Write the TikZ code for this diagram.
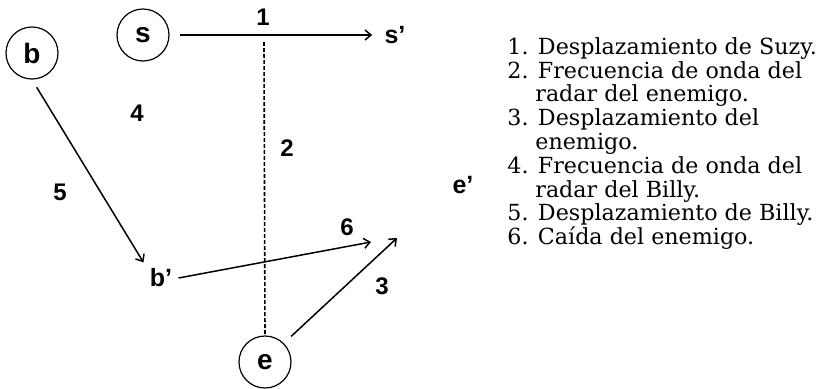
\documentclass[tikz,border=0pt]{standalone}
\usepackage{fontspec}
\setmainfont{DejaVu Serif}
\newfontfamily\labelfont{Liberation Sans}
\usetikzlibrary{arrows.meta}
\newcommand{\listindent}{\hspace*{14pt}}
\tikzset{
  agent/.style = {circle, draw, line width=0.6pt, minimum size=26pt,
                  inner sep=0pt, font=\labelfont\bfseries\fontsize{14}{16}\selectfont},
  place/.style = {inner sep=3pt, font=\labelfont\bfseries\fontsize{12.5}{14}\selectfont},
  num/.style   = {inner sep=0pt, font=\labelfont\bfseries\fontsize{12}{14}\selectfont},
  arr/.style   = {-{Straight Barb[length=3pt,width=5pt]}, line width=0.75pt},
  radar/.style = {line width=0.8pt, dash pattern=on 2pt off 1pt}
}

\begin{document}
\begin{tikzpicture}[x=0.5pt, y=-0.5pt]
  \useasboundingbox (0,0) rectangle (827,388);
  % actors and where they end up
  \node[agent] (b) at (32,53) {b};
  \node[agent] (s) at (143,35) {s};
  \node[agent] (e) at (265,362) {e};
  \node[place] (s2) at (395,35) {s’};
  \node[place] (b2) at (161,278) {b’};
  \node[place] (e2) at (463,185) {e’};
  \coordinate (t6) at (371,242);
  \coordinate (t3) at (397,238);
  \coordinate (top2) at (264,42);
  % movements
  \draw[arr, shorten <=5pt, shorten >=3pt] (s.east) -- (s2.west);
  \draw[arr, shorten <=4.5pt] (b.south) -- (b2.north west);
  \draw[arr] (b2.east) -- (t6);
  \draw[arr, shorten <=5pt] (e.45) -- (t3);
  \draw[radar] (top2) -- (e.north);
  % numbers
  \node[num] (n1) at (263,17) {1};
  \node[num] (n2) at (287,148) {2};
  \node[num] (n3) at (382,286) {3};
  \node[num] (n4) at (137,113) {4};
  \node[num] (n5) at (60,192) {5};
  \node[num] (n6) at (347,227) {6};
  % legend
  \node[anchor=north west, inner sep=0pt, align=left,
        font=\fontsize{11.1}{11.9}\selectfont] (legend) at (507,37) {
    1. Desplazamiento de Suzy.\\
    2. Frecuencia de onda del\\
    \listindent radar del enemigo.\\
    3. Desplazamiento del\\
    \listindent enemigo.\\
    4. Frecuencia de onda del\\
    \listindent radar del Billy.\\
    5. Desplazamiento de Billy.\\
    6. Caída del enemigo.};
\end{tikzpicture}
\end{document}
